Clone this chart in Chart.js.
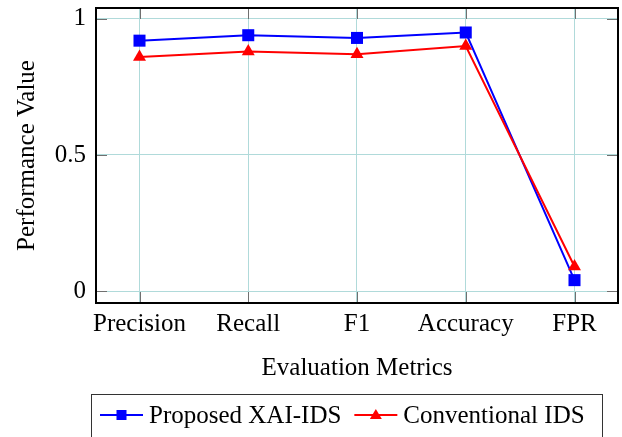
<!DOCTYPE html>
<html>
<head>
<meta charset="utf-8">
<script src="https://cdn.jsdelivr.net/npm/chart.js@4.4.1/dist/chart.umd.min.js"></script>
<style>
  html, body { margin: 0; padding: 0; background: #fff; }
  #wrap { width: 622px; height: 437px; position: relative; }
</style>
</head>
<body>
<div id="wrap"><canvas id="c" width="622" height="437"></canvas></div>
<script>
// Metric categories along the x axis
const categories = ['Precision', 'Recall', 'F1', 'Accuracy', 'FPR'];
// Scores for each method
const proposedXaiIds = [0.92, 0.94, 0.93, 0.95, 0.04];
const conventionalIds = [0.86, 0.88, 0.87, 0.90, 0.09];
// Tick values on the y axis
const yTickValues = [0, 0.5, 1];

const SERIF = '"Liberation Serif", "Times New Roman", serif';
const GRID = '#b0dada';
const TICK = '#707070';

function toPoints(values) {
  return values.map((v, i) => ({ x: i, y: v }));
}

// Frame, inner tick marks and the boxed legend
const decor = {
  id: 'decor',
  beforeDatasetsDraw(chart) {
    const { ctx, chartArea: a, scales } = chart;
    const len = 11;
    ctx.save();
    ctx.strokeStyle = TICK;
    ctx.lineWidth = 1;
    ctx.beginPath();
    scales.x.ticks.forEach(t => {
      const px = Math.round(scales.x.getPixelForValue(t.value)) + 0.5;
      ctx.moveTo(px, a.top); ctx.lineTo(px, a.top + len);
      ctx.moveTo(px, a.bottom); ctx.lineTo(px, a.bottom - len);
    });
    scales.y.ticks.forEach(t => {
      const py = Math.round(scales.y.getPixelForValue(t.value)) + 0.5;
      ctx.moveTo(a.left, py); ctx.lineTo(a.left + len, py);
      ctx.moveTo(a.right, py); ctx.lineTo(a.right - len, py);
    });
    ctx.stroke();
    ctx.restore();
  },
  afterDraw(chart) {
    const { ctx, chartArea: a } = chart;
    ctx.save();
    // plot frame
    ctx.strokeStyle = '#000';
    ctx.lineWidth = 2;
    ctx.strokeRect(a.left, a.top, a.right - a.left, a.bottom - a.top);

    // legend box
    const bx = 91.5, by = 394.5, bw = 511, bh = 60;
    ctx.lineWidth = 1;
    ctx.strokeStyle = '#333';
    ctx.strokeRect(bx, by, bw, bh);

    ctx.font = '25px ' + SERIF;
    ctx.textBaseline = 'alphabetic';
    ctx.fillStyle = '#000';
    const ly = 415;
    let x = 100;
    chart.data.datasets.forEach(ds => {
      ctx.strokeStyle = ds.borderColor;
      ctx.lineWidth = 2;
      ctx.beginPath();
      ctx.moveTo(x, ly); ctx.lineTo(x + 43, ly);
      ctx.stroke();
      ctx.fillStyle = ds.borderColor;
      const cx = x + 21.5;
      if (ds.pointStyle === 'rect') {
        ctx.fillRect(cx - 5, ly - 5, 10, 10);
      } else {
        ctx.beginPath();
        ctx.moveTo(cx, ly - 6);
        ctx.lineTo(cx + 6, ly + 4);
        ctx.lineTo(cx - 6, ly + 4);
        ctx.closePath();
        ctx.fill();
      }
      ctx.fillStyle = '#000';
      ctx.fillText(ds.label, x + 49, ly + 8);
      x += 49 + ctx.measureText(ds.label).width + 13;
    });
    ctx.restore();
  }
};

new Chart(document.getElementById('c'), {
  type: 'line',
  data: {
    datasets: [
      {
        label: 'Proposed XAI-IDS',
        data: toPoints(proposedXaiIds),
        borderColor: '#0000ff',
        backgroundColor: '#0000ff',
        borderWidth: 2,
        pointStyle: 'rect',
        pointRadius: 8.5,
        pointBorderWidth: 0,
        order: 1
      },
      {
        label: 'Conventional IDS',
        data: toPoints(conventionalIds),
        borderColor: '#ff0000',
        backgroundColor: '#ff0000',
        borderWidth: 2,
        pointStyle: 'triangle',
        pointRadius: 7.5,
        pointBorderWidth: 0,
        order: 0
      }
    ]
  },
  options: {
    responsive: false,
    animation: false,
    devicePixelRatio: 1,
    layout: { autoPadding: false, padding: { left: 0, top: 8, right: 4, bottom: 54 } },
    plugins: { legend: { display: false }, tooltip: { enabled: false } },
    elements: { line: { tension: 0 } },
    scales: {
      x: {
        type: 'linear',
        min: -0.4,
        max: 4.4,
        afterBuildTicks: s => { s.ticks = categories.map((_, i) => ({ value: i })); },
        afterFit: s => { s.height = 80; s.paddingLeft = 0; s.paddingRight = 0; },
        ticks: {
          callback: v => categories[v],
          font: { family: SERIF, size: 25 },
          color: '#000',
          padding: 6,
          maxRotation: 0,
          autoSkip: false
        },
        grid: { color: GRID, lineWidth: 1, drawTicks: false },
        border: { display: false },
        title: {
          display: true,
          text: 'Evaluation Metrics',
          font: { family: SERIF, size: 25 },
          color: '#000',
          padding: { top: 4, bottom: 0 }
        }
      },
      y: {
        type: 'linear',
        min: -0.044,
        max: 1.04,
        afterBuildTicks: s => { s.ticks = yTickValues.map(v => ({ value: v })); },
        afterFit: s => { s.width = 96; s.paddingTop = 0; s.paddingBottom = 0; },
        ticks: {
          callback: v => String(v),
          font: { family: SERIF, size: 25 },
          color: '#000',
          padding: 10
        },
        grid: { color: GRID, lineWidth: 1, drawTicks: false },
        border: { display: false },
        title: {
          display: true,
          text: 'Performance Value',
          font: { family: SERIF, size: 25 },
          color: '#000',
          padding: { top: 12, bottom: 0 }
        }
      }
    }
  },
  plugins: [decor]
});
</script>
</body>
</html>
